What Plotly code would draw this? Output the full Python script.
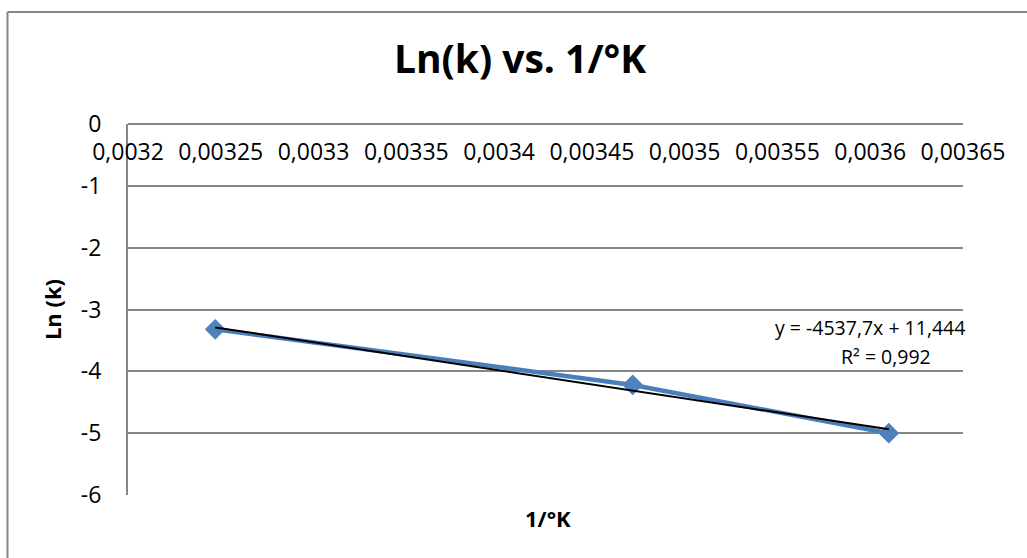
import plotly.graph_objects as go

# ---- data ----
inv_T = [0.003247, 0.003472, 0.003610]
ln_k = [-3.32, -4.22, -5.00]

trend_slope = -4537.7
trend_intercept = 11.444
trend_label_1 = "y = -4537,7x + 11,444"
trend_label_2 = "R² = 0,992"

x_tickvals = [0.0032, 0.00325, 0.0033, 0.00335, 0.0034, 0.00345, 0.0035, 0.00355, 0.0036, 0.00365]
x_ticktext = ["0,0032", "0,00325", "0,0033", "0,00335", "0,0034", "0,00345", "0,0035", "0,00355", "0,0036", "0,00365"]
y_tickvals = [0, -1, -2, -3, -4, -5, -6]
y_ticktext = ["0", "-1", "-2", "-3", "-4", "-5", "-6"]

title_text = "Ln(k) vs. 1/°K"
x_title = "1/°K"
y_title = "Ln (k)"

# ---- layout geometry (pixels) ----
W, H = 1027, 558
L, R, T, B = 128, 1027 - 963, 124, 558 - 495
PW, PH = W - L - R, H - T - B

def px_x(p):
    return (p - L) / PW

def px_y(p):
    return (H - B - p) / PH

FONT = "Open Sans"
GRAY = "#868686"

trend_x = [min(inv_T), max(inv_T)]
trend_y = [trend_slope * v + trend_intercept for v in trend_x]

fig = go.Figure()
fig.add_trace(go.Scatter(
    x=inv_T, y=ln_k, mode="lines+markers",
    line=dict(color="#4A7EBB", width=4.5),
    marker=dict(symbol="diamond", size=16, color="#4F81BD",
                line=dict(color="#4A7EBB", width=0)),
    showlegend=False, cliponaxis=False,
))
fig.add_trace(go.Scatter(
    x=trend_x, y=trend_y, mode="lines",
    line=dict(color="black", width=2),
    showlegend=False, cliponaxis=False,
))

fig.update_layout(
    width=W, height=H,
    margin=dict(l=L, r=R, t=T, b=B, pad=0),
    paper_bgcolor="white", plot_bgcolor="white",
    font=dict(family=FONT, color="black", size=23),
    title=dict(text=title_text, x=520 / W, xref="container", xanchor="center",
               y=1 - 59 / H, yref="container", yanchor="middle",
               font=dict(family=FONT, size=39, color="black", weight="bold")),
    xaxis=dict(
        range=[0.0032, 0.00365], tickvals=x_tickvals, ticktext=x_ticktext,
        anchor="free", position=1, side="bottom",
        showline=True, linecolor=GRAY, linewidth=2,
        showgrid=False, zeroline=False, ticks="", ticklabelstandoff=7,
        tickfont=dict(family=FONT, size=23, color="black"),
    ),
    yaxis=dict(
        range=[-6, 0], tickvals=y_tickvals, ticktext=y_ticktext,
        showline=True, linecolor=GRAY, linewidth=2,
        showgrid=True, gridcolor=GRAY, gridwidth=2,
        zeroline=False, ticks="", ticklabelstandoff=20,
        tickfont=dict(family=FONT, size=23, color="black"),
        title=dict(text=y_title, standoff=13,
                   font=dict(family=FONT, size=22, color="black", weight="bold")),
    ),
    annotations=[
        dict(text=x_title, xref="paper", yref="paper", x=px_x(548), y=px_y(518),
             showarrow=False, xanchor="center", yanchor="middle",
             font=dict(family=FONT, size=22, color="black", weight="bold")),
        dict(text=trend_label_1, xref="paper", yref="paper", x=px_x(870), y=px_y(327),
             showarrow=False, xanchor="center", yanchor="middle",
             font=dict(family=FONT, size=19.5, color="black")),
        dict(text=trend_label_2, xref="paper", yref="paper", x=px_x(886), y=px_y(356),
             showarrow=False, xanchor="center", yanchor="middle",
             font=dict(family=FONT, size=19.5, color="black")),
    ],
    shapes=[
        dict(type="line", xref="paper", yref="paper", x0=px_x(7.5), x1=px_x(1040),
             y0=px_y(12), y1=px_y(12), line=dict(color=GRAY, width=2)),
        dict(type="line", xref="paper", yref="paper", x0=px_x(7.5), x1=px_x(7.5),
             y0=px_y(12), y1=px_y(570), line=dict(color=GRAY, width=2)),
    ],
)

fig.write_html("out.html", config={"displayModeBar": False},
               post_script="document.body.style.margin='0';")
